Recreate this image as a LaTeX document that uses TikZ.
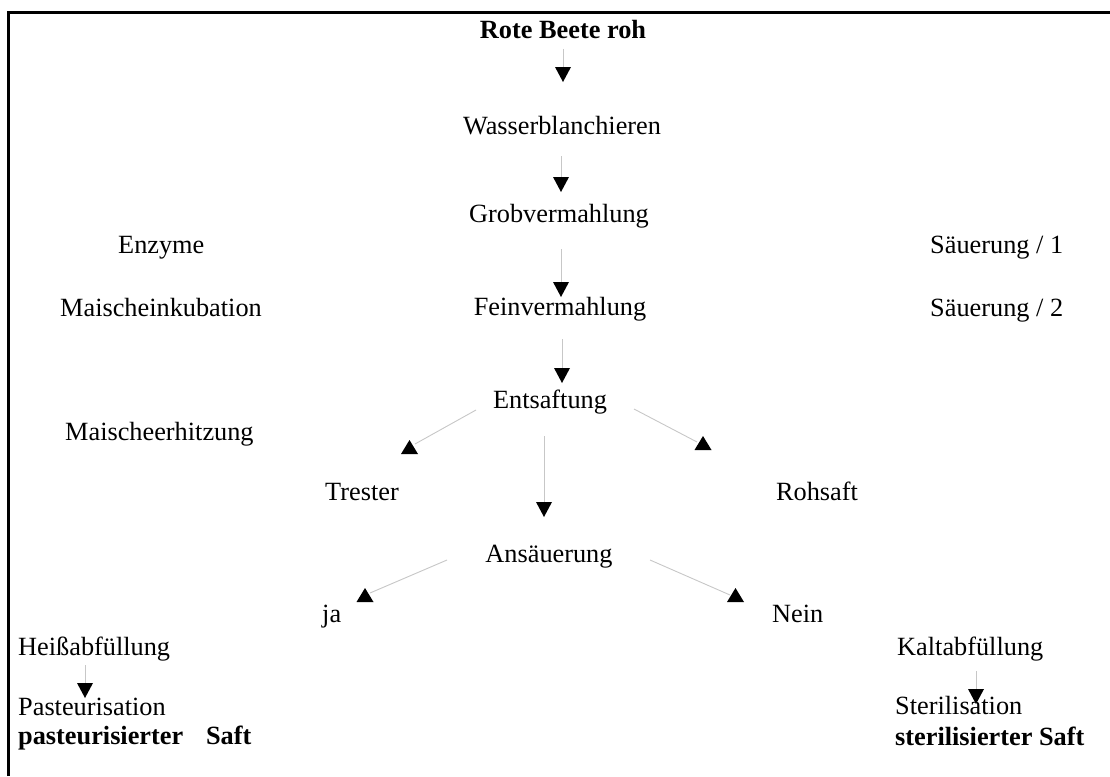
\documentclass[tikz,border=0pt]{standalone}
\usepackage{fontspec}
\setmainfont{Liberation Serif}
\tikzset{
  lbl/.style={inner sep=0pt, font=\fontsize{26.3}{30}\selectfont},
  blbl/.style={inner sep=0pt, font=\fontsize{26.3}{30}\selectfont\bfseries},
  conn/.style={draw=black!22, line width=0.9pt},
  frame/.style={draw=black, line width=3pt},
  tridown/.pic={\fill[black] (-8,0)--(8,0)--(0,15)--cycle;},
  triup/.pic={\fill[black] (0,0)--(-8.5,14)--(8.5,14)--cycle;}
}
\begin{document}
\begin{tikzpicture}[x=1pt,y=-1pt]
\useasboundingbox (0,0) rectangle (1110,776);
% frame (top and left only)
\draw[frame] (8,776) -- (8,12.5) -- (1110,12.5);

% text nodes
\node[blbl, anchor=base] (rote) at (563,39) {Rote Beete roh};
\node[lbl, anchor=base] (wasser) at (562,134) {Wasserblanchieren};
\node[lbl, anchor=base] (grob) at (559,222) {Grobvermahlung};
\node[lbl, anchor=base] (fein) at (560,315) {Feinvermahlung};
\node[lbl, anchor=base] (ents) at (550,408) {Entsaftung};
\node[lbl, anchor=base] (trester) at (362,500) {Trester};
\node[lbl, anchor=base] (rohsaft) at (817,500) {Rohsaft};
\node[lbl, anchor=base] (ans) at (549,562) {Ansäuerung};
\node[lbl, anchor=base west] (ja) at (322,622) {ja};
\node[lbl, anchor=base west] (nein) at (772,622) {Nein};
\node[lbl, anchor=base west] (enz) at (118,253) {Enzyme};
\node[lbl, anchor=base west] (mink) at (60,316) {Maischeinkubation};
\node[lbl, anchor=base west] (merh) at (65,440) {Maischeerhitzung};
\node[lbl, anchor=base west] (s1) at (930,253) {Säuerung / 1};
\node[lbl, anchor=base west] (s2) at (930,316) {Säuerung / 2};
\node[lbl, anchor=base west] (heiss) at (18,655) {Heißabfüllung};
\node[lbl, anchor=base west] (past) at (18,715) {Pasteurisation};
\node[blbl, anchor=base west] (pastS) at (18,744) {pasteurisierter\hspace{0.87em}Saft};
\node[lbl, anchor=base west] (kalt) at (897,655) {Kaltabfüllung};
\node[lbl, anchor=base west] (ster) at (895,714) {Sterilisation};
\node[blbl, anchor=base west] (sterS) at (895,745) {sterilisierter Saft};

% connector end points
\coordinate (a1s) at (563,49);  \coordinate (a1e) at (563,67);
\coordinate (a2s) at (561,156); \coordinate (a2e) at (561,177);
\coordinate (a3s) at (561,249); \coordinate (a3e) at (561,282);
\coordinate (a4s) at (562,339); \coordinate (a4e) at (562,368);
\coordinate (a5s) at (544,436); \coordinate (a5e) at (544,502);
\coordinate (a6s) at (85,665);  \coordinate (a6e) at (85,683);
\coordinate (a7s) at (976,671); \coordinate (a7e) at (976,689);

\coordinate (d1s) at (476,410); \coordinate (d1e) at (415,444); \coordinate (d1t) at (409.5,440);
\coordinate (d2s) at (634,409); \coordinate (d2e) at (697,442); \coordinate (d2t) at (703,436);
\coordinate (d3s) at (447,560); \coordinate (d3e) at (370,593); \coordinate (d3t) at (365,588);
\coordinate (d4s) at (650,560); \coordinate (d4e) at (730,595); \coordinate (d4t) at (735.5,588);

% vertical connectors
\draw[conn] (a1s) -- (a1e) pic {tridown};
\draw[conn] (a2s) -- (a2e) pic {tridown};
\draw[conn] (a3s) -- (a3e) pic {tridown};
\draw[conn] (a4s) -- (a4e) pic {tridown};
\draw[conn] (a5s) -- (a5e) pic {tridown};
\draw[conn] (a6s) -- (a6e) pic {tridown};
\draw[conn] (a7s) -- (a7e) pic {tridown};

% diagonal connectors
\draw[conn] (d1s) -- (d1e);
\pic at (d1t) {triup};
\draw[conn] (d2s) -- (d2e);
\pic at (d2t) {triup};
\draw[conn] (d3s) -- (d3e);
\pic at (d3t) {triup};
\draw[conn] (d4s) -- (d4e);
\pic at (d4t) {triup};
\end{tikzpicture}
\end{document}
